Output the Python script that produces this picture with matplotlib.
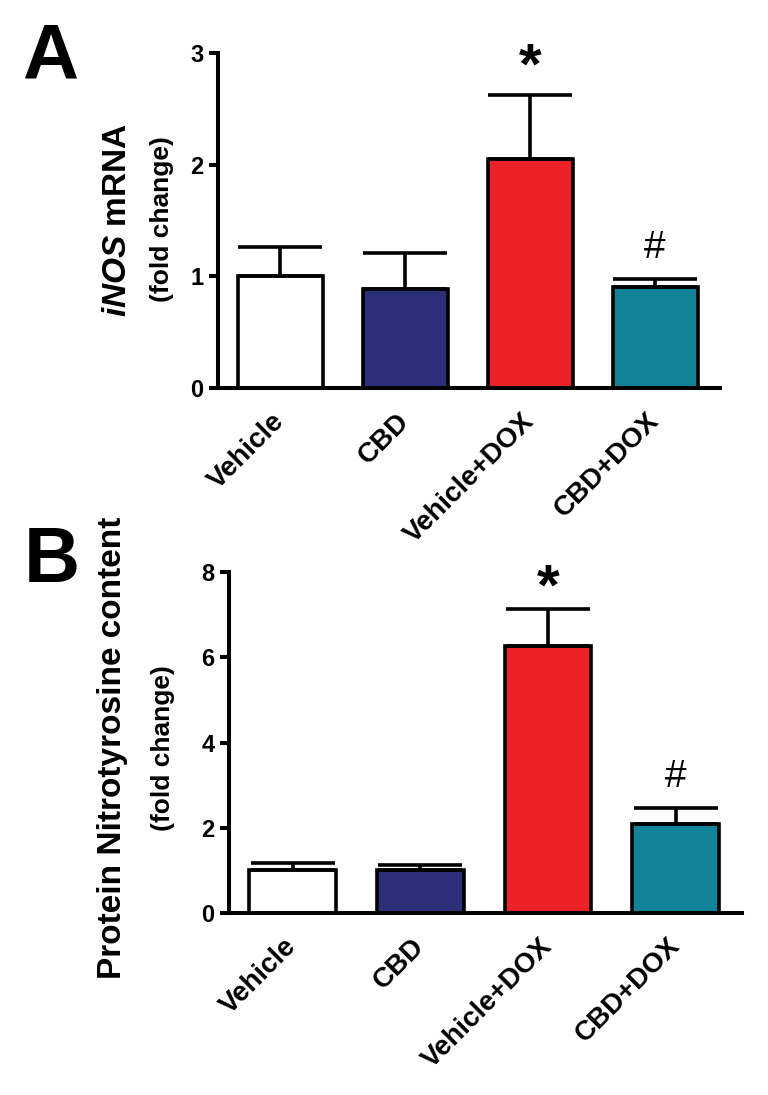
import matplotlib
matplotlib.use('Agg')
import matplotlib.pyplot as plt
from matplotlib import font_manager
import numpy as np

# data
groups = ['Vehicle', 'CBD', 'Vehicle+DOX', 'CBD+DOX']
bar_colors = ['#ffffff', '#2c2f78', '#ec2229', '#11849a']

inos_mean = [1.00, 0.89, 2.05, 0.90]
inos_sem = [0.26, 0.32, 0.57, 0.08]
inos_ticks = [0, 1, 2, 3]

nitro_mean = [1.00, 1.00, 6.27, 2.08]
nitro_sem = [0.17, 0.12, 0.87, 0.39]
nitro_ticks = [0, 2, 4, 6, 8]

plt.rcParams['font.family'] = ['Liberation Sans', 'DejaVu Sans']
plt.rcParams['mathtext.fontset'] = 'custom'
plt.rcParams['mathtext.it'] = 'Liberation Sans:italic:bold'

names = {f.name for f in font_manager.fontManager.ttflist}
tickfont = 'Liberation Sans Narrow' if 'Liberation Sans Narrow' in names else 'Liberation Sans'

fig = plt.figure(figsize=(7.68, 10.95), dpi=100)
axA = fig.add_axes([0.2839, 0.6457, 0.6536, 0.3059])
axB = fig.add_axes([0.2982, 0.1662, 0.6680, 0.3114])


def draw(ax, mean, sem, ticks, ymax, marks):
    x = np.arange(len(groups))
    ax.bar(x, mean, width=0.68, color=bar_colors, edgecolor='black',
           linewidth=2.6, zorder=2)
    ax.errorbar(x, mean, yerr=[np.zeros(len(sem)), sem], fmt='none',
                ecolor='black', elinewidth=2.6, capsize=30, capthick=2.6,
                zorder=3)
    ax.set_xlim(-0.5, 3.52)
    ax.set_ylim(0, ymax)
    ax.set_yticks(ticks)
    ax.set_yticklabels([str(t) for t in ticks], fontsize=17,
                       fontweight='bold', family=tickfont)
    ax.set_xticks(x)
    ax.set_xticklabels(groups, fontsize=20, fontweight='bold', rotation=45,
                       ha='right', va='center', rotation_mode='anchor')
    ax.tick_params(axis='x', length=0, pad=21)
    ax.tick_params(axis='y', length=6.5, width=2.9, pad=4)
    for s in ['top', 'right']:
        ax.spines[s].set_visible(False)
    for s in ['left', 'bottom']:
        ax.spines[s].set_linewidth(2.9)
        ax.spines[s].set_zorder(4)
    # significance marks
    star_y, hash_y = marks
    ax.text(2, star_y, '*', fontsize=42, fontweight='bold',
            ha='center', va='center', zorder=5)
    ax.text(3, hash_y, '#', fontsize=28, ha='center', va='center', zorder=5)


draw(axA, inos_mean, inos_sem, inos_ticks, 3, (2.86, 1.25))
draw(axB, nitro_mean, nitro_sem, nitro_ticks, 8, (7.58, 3.18))

# panel letters
fig.text(22 / 768, 1 - 79 / 1095, 'A', fontsize=56, fontweight='bold',
         va='baseline', ha='left')
fig.text(24 / 768, 1 - 582 / 1095, 'B', fontsize=56, fontweight='bold',
         va='baseline', ha='left')

# axis titles
fig.text(117 / 768, 1 - 220 / 1095, r'$\mathit{iNOS}$ mRNA', fontsize=24,
         fontweight='bold', rotation=90, ha='center', va='center')
fig.text(162 / 768, 1 - 219 / 1095, '(fold change)', fontsize=19,
         fontweight='bold', rotation=90, ha='center', va='center')
fig.text(113 / 768, 1 - 748 / 1095, 'Protein Nitrotyrosine content',
         fontsize=24, fontweight='bold', rotation=90, ha='center', va='center')
fig.text(163 / 768, 1 - 748 / 1095, '(fold change)', fontsize=19,
         fontweight='bold', rotation=90, ha='center', va='center')

fig.savefig('out.png', dpi=100, facecolor='white')
